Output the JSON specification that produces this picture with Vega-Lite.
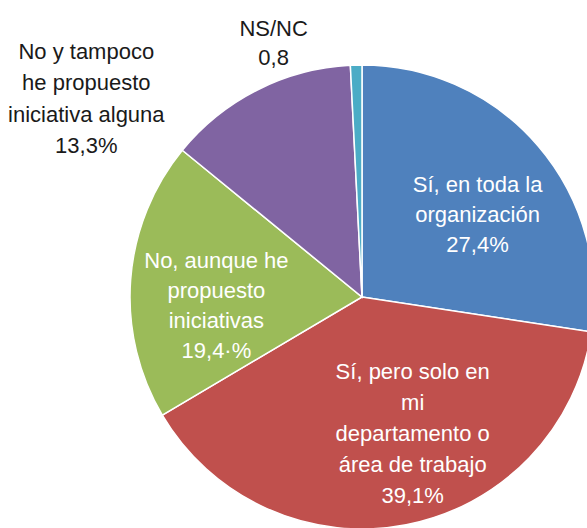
{
  "$schema": "https://vega.github.io/schema/vega-lite/v6.json",
  "width": 587,
  "height": 528,
  "autosize": "none",
  "padding": 0,
  "background": "white",
  "config": {"view": {"stroke": null}},
  "data": {
    "values": [
      {"orden": 1, "cat": "Sí, en toda la organización", "valor": 27.4, "label": "Sí, en toda la\norganización\n27,4%"},
      {"orden": 2, "cat": "Sí, pero solo en mi departamento o área de trabajo", "valor": 39.1, "label": "Sí, pero solo en\nmi\ndepartamento o\nárea de trabajo\n39,1%"},
      {"orden": 3, "cat": "No, aunque he propuesto iniciativas", "valor": 19.4, "label": "No, aunque he\npropuesto\niniciativas\n19,4·%"},
      {"orden": 4, "cat": "No y tampoco he propuesto iniciativa alguna", "valor": 13.3, "label": "No y tampoco\nhe propuesto\niniciativa alguna\n13,3%"},
      {"orden": 5, "cat": "NS/NC", "valor": 0.8, "label": "NS/NC\n0,8"}
    ]
  },
  "encoding": {
    "theta": {"field": "valor", "type": "quantitative", "stack": true, "scale": {"domain": [0, 100]}},
    "order": {"field": "orden", "type": "quantitative", "sort": "ascending"}
  },
  "layer": [
    {
      "mark": {"type": "arc", "x": 362, "y": 297, "outerRadius": 232, "stroke": "white", "strokeWidth": 1.5},
      "encoding": {
        "color": {
          "field": "cat", "type": "nominal", "legend": null,
          "scale": {
            "domain": ["Sí, en toda la organización", "Sí, pero solo en mi departamento o área de trabajo", "No, aunque he propuesto iniciativas", "No y tampoco he propuesto iniciativa alguna", "NS/NC"],
            "range": ["#4F81BD", "#C0504D", "#9BBB59", "#8064A2", "#4BACC6"]
          }
        }
      }
    },
    {
      "mark": {"type": "text", "x": 362, "y": 297, "radius": 126, "dx": 20, "dy": -30, "align": "center", "baseline": "middle", "lineBreak": "\n", "lineHeight": 30, "font": "Liberation Sans", "fontSize": 22, "fill": "white"},
      "encoding": {"text": {"condition": {"test": "datum.orden == 1", "field": "label"}, "value": ""}}
    },
    {
      "mark": {"type": "text", "x": 362, "y": 297, "radius": 140, "dx": 24, "dy": -62, "align": "center", "baseline": "middle", "lineBreak": "\n", "lineHeight": 31, "font": "Liberation Sans", "fontSize": 22, "fill": "white"},
      "encoding": {"text": {"condition": {"test": "datum.orden == 2", "field": "label"}, "value": ""}}
    },
    {
      "mark": {"type": "text", "x": 362, "y": 297, "radius": 146, "dx": 0, "dy": -25, "align": "center", "baseline": "middle", "lineBreak": "\n", "lineHeight": 30, "font": "Liberation Sans", "fontSize": 22, "fill": "white"},
      "encoding": {"text": {"condition": {"test": "datum.orden == 3", "field": "label"}, "value": ""}}
    },
    {
      "mark": {"type": "text", "x": 362, "y": 297, "radius": 221, "dx": -176, "dy": -48, "align": "center", "baseline": "middle", "lineBreak": "\n", "lineHeight": 31.5, "font": "Liberation Sans", "fontSize": 22, "fill": "#1a1a1a"},
      "encoding": {"text": {"condition": {"test": "datum.orden == 4", "field": "label"}, "value": ""}}
    },
    {
      "mark": {"type": "text", "x": 362, "y": 297, "radius": 252, "dx": -82, "dy": -16, "align": "center", "baseline": "middle", "lineBreak": "\n", "lineHeight": 29, "font": "Liberation Sans", "fontSize": 22, "fill": "#1a1a1a"},
      "encoding": {"text": {"condition": {"test": "datum.orden == 5", "field": "label"}, "value": ""}}
    }
  ]
}
